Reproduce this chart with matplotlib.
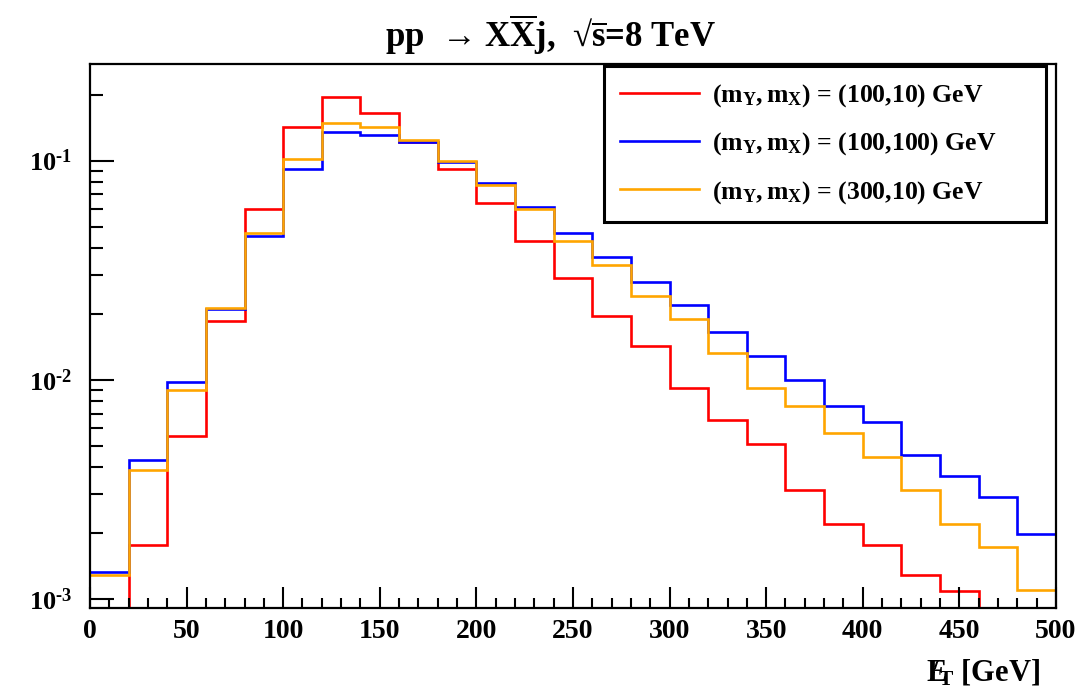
import numpy as np
import matplotlib
matplotlib.use("Agg")
import matplotlib.pyplot as plt
from matplotlib.ticker import FixedLocator, LogLocator, MultipleLocator, NullFormatter, FuncFormatter

# Missing transverse energy, 20 GeV bins from 0 to 500 GeV (normalised)
bin_edges = np.arange(0, 520, 20)

met_100_10 = [0.0, 0.00176, 0.00556, 0.0186, 0.0599, 0.1426, 0.194, 0.1651,
              0.1218, 0.0915, 0.0637, 0.0430, 0.0290, 0.0196, 0.01433, 0.00917,
              0.00657, 0.0051, 0.00315, 0.0022, 0.00176, 0.00129, 0.00109, 0.0, 0.0]
met_100_100 = [0.001325, 0.00429, 0.00972, 0.0210, 0.0453, 0.0912, 0.1353, 0.1307,
               0.121, 0.0988, 0.0792, 0.0616, 0.0466, 0.0362, 0.0280, 0.0220,
               0.0166, 0.01277, 0.0100, 0.00756, 0.00639, 0.00455, 0.00365, 0.00292, 0.00197]
met_300_10 = [0.001293, 0.00386, 0.00894, 0.0212, 0.0469, 0.1019, 0.1477, 0.1426,
              0.1236, 0.0992, 0.0774, 0.0598, 0.0430, 0.0334, 0.0240, 0.0190,
              0.01323, 0.00917, 0.00756, 0.00572, 0.00444, 0.00315, 0.0022, 0.00172, 0.00110]

series = [met_100_10, met_100_100, met_300_10]
labels = [r'$(m_Y,m_X)$ = (100,10) GeV',
          r'$(m_Y,m_X)$ = (100,100) GeV',
          r'$(m_Y,m_X)$ = (300,10) GeV']
colors = ['#ff0000', '#0000ff', '#ffa500']

y_major = [1e-3, 1e-2, 1e-1]
y_major_labels = [r'$10^{\text{-}3}$', r'$10^{\text{-}2}$', r'$10^{\text{-}1}$']
x_major = [0, 50, 100, 150, 200, 250, 300, 350, 400, 450, 500]

plt.rcParams.update({
    'font.family': ['Liberation Serif', 'DejaVu Serif'],
    'font.weight': 'bold',
    'mathtext.fontset': 'custom',
    'mathtext.rm': 'Liberation Serif:bold',
    'mathtext.it': 'Liberation Serif:bold',
    'mathtext.bf': 'Liberation Serif:bold',
    'mathtext.fallback': 'stix',
})

fig = plt.figure(figsize=(10.92, 6.98), dpi=100)
ax = fig.add_axes([0.0824, 0.129, 0.8846, 0.779])

for vals, col, lab in zip(series, colors, labels):
    ax.stairs(vals, bin_edges, color=col, lw=1.9, label=lab, baseline=None)

ax.set_yscale('log')
ax.set_xlim(0, 500)
ax.set_ylim(9.1e-4, 0.275)

# axis ticks: inside, left and bottom only
ax.xaxis.set_major_locator(FixedLocator(x_major))
ax.xaxis.set_minor_locator(MultipleLocator(10))
ax.yaxis.set_major_locator(FixedLocator(y_major))
ax.yaxis.set_minor_locator(LogLocator(base=10, subs=np.arange(2, 10)))
ax.yaxis.set_minor_formatter(NullFormatter())
ax.yaxis.set_major_formatter(FuncFormatter(
    lambda v, p: y_major_labels[y_major.index(min(y_major, key=lambda m: abs(np.log10(m) - np.log10(v))))]))
ax.xaxis.set_major_formatter(FuncFormatter(lambda v, p: f'{int(round(v))}'))

ax.tick_params(axis='both', which='both', direction='in', top=False, right=False,
               color='black', width=1.5)
ax.tick_params(axis='y', which='major', length=17, pad=13, labelsize=19)
ax.tick_params(axis='y', which='minor', length=9.5)
ax.tick_params(axis='x', which='major', length=15, pad=8, labelsize=20)
ax.tick_params(axis='x', which='minor', length=7.5)
for sp in ax.spines.values():
    sp.set_linewidth(1.6)
    sp.set_color('black')

leg = ax.legend(loc='upper left', bbox_to_anchor=(0.532, 0.0, 0.4576, 0.9963),
                mode='expand', frameon=True, fancybox=False, edgecolor='black',
                framealpha=1, fontsize=18.5, handlelength=3.1, handletextpad=0.5,
                labelspacing=0.84, borderpad=0.62, borderaxespad=0)
leg.get_frame().set_linewidth(2.2)

fig.text(0.504, 0.95, r'pp  → $X\overline{X}$j,  √$\overline{s}$=8 TeV',
         ha='center', va='center', fontsize=25, fontweight='bold')
fig.text(0.952, 0.037, r'$E\!\!\!\!/_T$ [GeV]', ha='right', va='center',
         fontsize=22, fontweight='bold')

fig.savefig('out.png', dpi=100)
